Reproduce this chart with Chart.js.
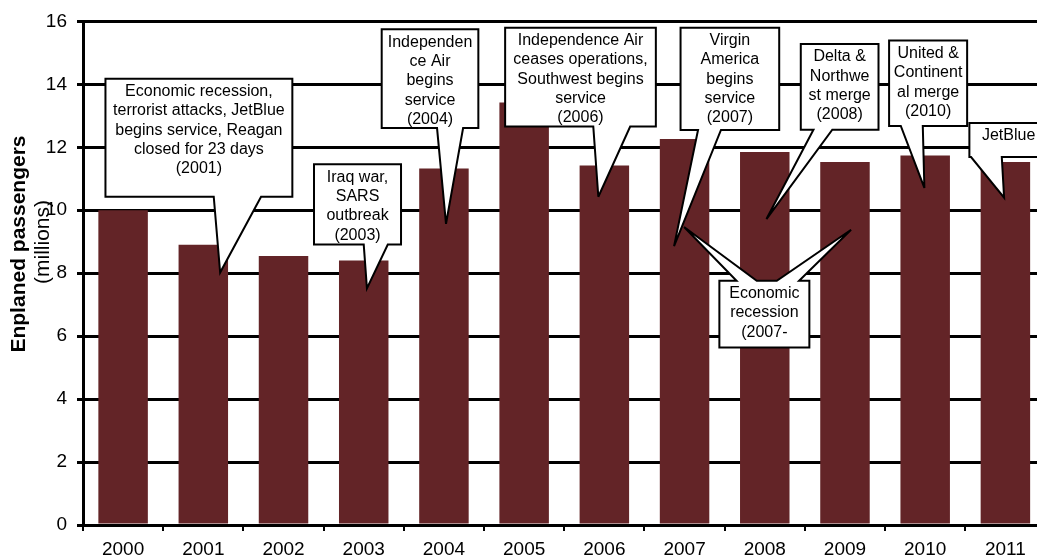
<!DOCTYPE html>
<html lang="en">
<head>
    <meta charset="UTF-8">
    <title>Enplaned passengers 2000-2011</title>
    <style>
        html, body { margin: 0; padding: 0; overflow: hidden; background: #fff; }
        #wrap { width: 1047px; height: 558px; }
    </style>
</head>
<body>
    <div id="wrap"><canvas id="myChart"></canvas></div>

    <script src="https://cdn.jsdelivr.net/npm/chart.js"></script>
    <script>
        const FONT = "'Liberation Sans', Arial, sans-serif";

        // data
        const years = ['2000', '2001', '2002', '2003', '2004', '2005', '2006', '2007', '2008', '2009', '2010', '2011'];
        const passengers = [10.0, 8.9, 8.55, 8.4, 11.33, 13.42, 11.42, 12.26, 11.85, 11.53, 11.74, 11.53];
        const yMin = 0, yMax = 16, yStep = 2;

        // callouts, in data units: box = [x left, x right, y top, y bottom] (x = category index)
        const callouts = [
            { lines: ['Economic recession,', 'terrorist attacks, JetBlue', 'begins service, Reagan', 'closed for 23 days', '(2001)'],
              box: [-0.22, 2.11, 14.18, 10.43], tails: [{ side: 'bottom', base: [1.13, 1.72], tip: [1.21, 8.02] }] },
            { lines: ['Iraq war,', 'SARS', 'outbreak', '(2003)'],
              box: [2.38, 3.465, 11.46, 8.91], tails: [{ side: 'bottom', base: [3.0, 3.3], tip: [3.04, 7.52] }] },
            { lines: ['Independen', 'ce Air', 'begins', 'service', '(2004)'],
              box: [3.224, 4.429, 15.75, 12.61], tails: [{ side: 'bottom', base: [3.914, 4.239], tip: [4.026, 9.57] }] },
            { lines: ['Independence Air', 'ceases operations,', 'Southwest begins', 'service', '(2006)'],
              box: [4.763, 6.642, 15.8, 12.66], tails: [{ side: 'bottom', base: [5.862, 6.322], tip: [5.925, 10.43] }] },
            { lines: ['Virgin', 'America', 'begins', 'service', '(2007)'],
              box: [6.95, 8.18, 15.8, 12.55], tails: [{ side: 'bottom', base: [7.168, 7.454], tip: [6.869, 8.86] }] },
            { lines: ['Delta &', 'Northwe', 'st merge', '(2008)'],
              box: [8.449, 9.418, 15.28, 12.56], tails: [{ side: 'bottom', base: [8.607, 8.842], tip: [8.021, 9.72] }] },
            { lines: ['United &', 'Continent', 'al merge', '(2010)'],
              box: [9.55, 10.523, 15.39, 12.68], tails: [{ side: 'bottom', base: [9.696, 9.97], tip: [9.99, 10.71] }] },
            { lines: ['JetBlue'], tx: 11.04,
              box: [10.551, 12.4, 12.77, 11.69], tails: [{ side: 'bottom', base: [10.572, 10.955], tip: [10.984, 10.4] }] },
            { lines: ['Economic', 'recession', '(2007-'],
              box: [7.434, 8.556, 7.76, 5.64], tails: [
                  { side: 'top', base: [7.648, 7.9], tip: [6.994, 9.47] },
                  { side: 'top', base: [8.15, 8.428], tip: [9.076, 9.38] }
              ] }
        ];

        const calloutPlugin = {
            id: 'callouts',
            afterDatasetsDraw(chart) {
                const ctx = chart.ctx;
                const xs = chart.scales.x, ys = chart.scales.y;
                const px = v => xs.getPixelForValue(v);
                const py = v => ys.getPixelForValue(v);

                callouts.forEach(c => {
                    const l = px(c.box[0]), r = px(c.box[1]);
                    const t = py(c.box[2]), b = py(c.box[3]);
                    const top = c.tails.filter(k => k.side === 'top').sort((m, n) => m.base[0] - n.base[0]);
                    const bottom = c.tails.filter(k => k.side === 'bottom').sort((m, n) => n.base[0] - m.base[0]);

                    ctx.save();
                    ctx.beginPath();
                    ctx.moveTo(l, t);
                    top.forEach(k => {
                        ctx.lineTo(px(k.base[0]), t);
                        ctx.lineTo(px(k.tip[0]), py(k.tip[1]));
                        ctx.lineTo(px(k.base[1]), t);
                    });
                    ctx.lineTo(r, t);
                    ctx.lineTo(r, b);
                    bottom.forEach(k => {
                        ctx.lineTo(px(k.base[1]), b);
                        ctx.lineTo(px(k.tip[0]), py(k.tip[1]));
                        ctx.lineTo(px(k.base[0]), b);
                    });
                    ctx.lineTo(l, b);
                    ctx.closePath();
                    ctx.fillStyle = '#fff';
                    ctx.fill();
                    ctx.lineWidth = 2;
                    ctx.lineJoin = 'miter';
                    ctx.miterLimit = 4;
                    ctx.strokeStyle = '#000';
                    ctx.stroke();

                    // text
                    ctx.fillStyle = '#000';
                    ctx.font = '16px ' + FONT;
                    ctx.textAlign = 'center';
                    ctx.textBaseline = 'middle';
                    const cx = c.tx !== undefined ? px(c.tx) : (l + r) / 2;
                    c.lines.forEach((s, i) => ctx.fillText(s, cx, t + 13 + i * 19.3));
                    ctx.restore();
                });
            },
            afterDraw(chart) {
                const ctx = chart.ctx;
                ctx.save();
                ctx.fillStyle = '#000';
                ctx.textAlign = 'center';
                ctx.textBaseline = 'middle';
                ctx.translate(19, 244);
                ctx.rotate(-Math.PI / 2);
                ctx.font = 'bold 21px ' + FONT;
                ctx.fillText('Enplaned passengers', 0, 0);
                ctx.restore();

                ctx.save();
                ctx.fillStyle = '#000';
                ctx.textAlign = 'center';
                ctx.textBaseline = 'middle';
                ctx.translate(43, 242);
                ctx.rotate(-Math.PI / 2);
                ctx.font = '21px ' + FONT;
                ctx.fillText('(millions)', 0, 0);
                ctx.restore();
            }
        };

        const ctx = document.getElementById('myChart').getContext('2d');
        const myChart = new Chart(ctx, {
            type: 'bar',
            data: {
                labels: years,
                datasets: [{
                    data: passengers,
                    backgroundColor: '#632427',
                    borderWidth: 0,
                    barPercentage: 0.617,
                    categoryPercentage: 1.0
                }]
            },
            options: {
                responsive: true,
                maintainAspectRatio: false,
                animation: false,
                layout: { padding: { top: 16, right: 1.5, left: 0, bottom: 0 } },
                plugins: {
                    legend: { display: false },
                    tooltip: { enabled: false }
                },
                scales: {
                    x: {
                        grid: {
                            offset: true,
                            drawOnChartArea: false,
                            drawTicks: true,
                            tickLength: 6,
                            color: '#000',
                            lineWidth: 2
                        },
                        border: { color: '#000', width: 3 },
                        ticks: {
                            color: '#000',
                            font: { size: 19, family: FONT },
                            padding: 7,
                            maxRotation: 0
                        },
                        afterFit(scale) { scale.height = 33; }
                    },
                    y: {
                        min: yMin,
                        max: yMax,
                        ticks: {
                            stepSize: yStep,
                            color: '#000',
                            font: { size: 19, family: FONT },
                            padding: 10
                        },
                        grid: {
                            color: '#000',
                            lineWidth: 3,
                            tickLength: 6,
                            drawTicks: true
                        },
                        border: { color: '#000', width: 3 },
                        afterFit(scale) { scale.width = 83; }
                    }
                }
            },
            plugins: [calloutPlugin]
        });
    </script>
</body>
</html>
